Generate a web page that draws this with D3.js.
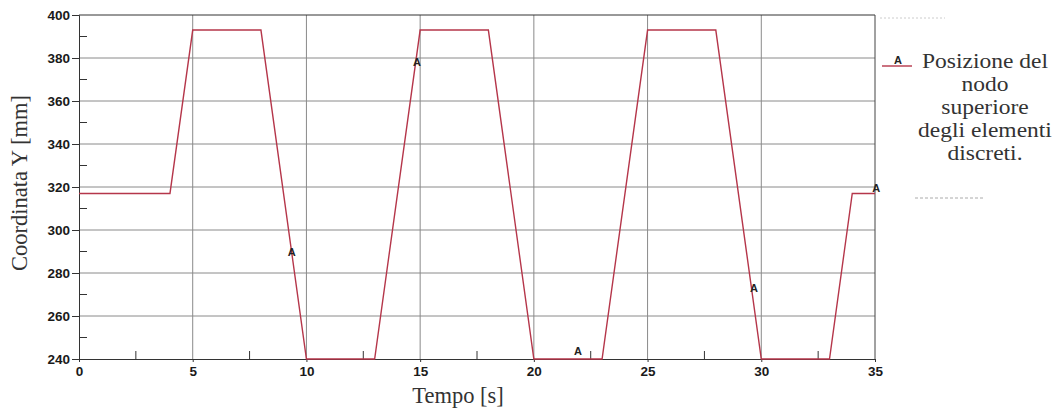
<!DOCTYPE html>
<html><head><meta charset="utf-8">
<script src="https://cdn.jsdelivr.net/npm/d3@7"></script>
<style>body{margin:0;background:#fff;}svg{display:block;}</style>
</head><body>
<svg id="c" width="1060" height="411"></svg>
<script>
// Data
const timeValues = [0, 4, 5, 8, 10, 13, 15, 18, 20, 23, 25, 28, 30, 33, 34, 35];
const yValues    = [317, 317, 393, 393, 240, 240, 393, 393, 240, 240, 393, 393, 240, 240, 317, 317];
const markerTime = [9.35, 14.86, 21.94, 29.68, 35.05];
const markerY    = [289.8, 378, 243.7, 273, 319.5];
const xTicks = [0, 5, 10, 15, 20, 25, 30, 35];
const xMinor = [2.5, 7.5, 12.5, 17.5, 22.5, 27.5, 32.5];
const yTicks = [240, 260, 280, 300, 320, 340, 360, 380, 400];
const yMinor = [250, 270, 290, 310, 330, 350, 370, 390];
const legendLines = ["Posizione del", "nodo", "superiore", "degli elementi", "discreti."];

const svg = d3.select("#c");
const L = 79, R = 875, T = 15, B = 359;
const x = d3.scaleLinear().domain([0, 35]).range([L, R]);
const y = d3.scaleLinear().domain([240, 400]).range([B, T]);
const lineColor = "#b5364a";
const sans = "Liberation Sans, Arial, sans-serif";
const serif = "Liberation Serif, Times New Roman, serif";

// grid
svg.append("g").selectAll("line").data(yTicks.filter(d => d > 240 && d < 400)).join("line")
  .attr("x1", L).attr("x2", R).attr("y1", d => y(d)).attr("y2", d => y(d))
  .attr("stroke", "#8a8a8a").attr("stroke-width", 1);
svg.append("g").selectAll("line").data(xTicks.filter(d => d > 0 && d < 35)).join("line")
  .attr("y1", T).attr("y2", B).attr("x1", d => x(d)).attr("x2", d => x(d))
  .attr("stroke", "#8a8a8a").attr("stroke-width", 1);

// frame
svg.append("line").attr("x1", L).attr("x2", R).attr("y1", T).attr("y2", T).attr("stroke", "#333");
svg.append("line").attr("x1", R).attr("x2", R).attr("y1", T).attr("y2", B).attr("stroke", "#444");

// left axis
const yAxis = d3.axisLeft(y).tickValues(yTicks).tickSize(7).tickPadding(2).tickFormat(d3.format("d"));
const gy = svg.append("g").attr("transform", `translate(${L},0)`).call(yAxis);
gy.select(".domain").attr("stroke", "#333");
gy.selectAll(".tick line").attr("stroke", "#333");
gy.selectAll("text").attr("font-family", sans).attr("font-weight", "bold")
  .attr("font-size", 13.5).attr("fill", "#1a1a1a");
svg.append("g").selectAll("line").data(yMinor).join("line")
  .attr("x1", L).attr("x2", L + 8).attr("y1", d => y(d)).attr("y2", d => y(d)).attr("stroke", "#333");

// bottom axis
const xAxis = d3.axisBottom(x).tickValues(xTicks).tickSize(3).tickPadding(4).tickFormat(d3.format("d"));
const gx = svg.append("g").attr("transform", `translate(0,${B})`).call(xAxis);
gx.select(".domain").attr("stroke", "#333");
gx.selectAll(".tick line").attr("stroke", "#333");
gx.selectAll("text").attr("font-family", sans).attr("font-weight", "bold")
  .attr("font-size", 13.5).attr("fill", "#1a1a1a");
svg.append("g").selectAll("line").data(xMinor).join("line")
  .attr("y1", B).attr("y2", B - 8).attr("x1", d => x(d)).attr("x2", d => x(d)).attr("stroke", "#333");

// curve
const pts = timeValues.map((t, i) => [t, yValues[i]]);
svg.append("path").datum(pts)
  .attr("d", d3.line().x(d => x(d[0])).y(d => y(d[1])))
  .attr("fill", "none").attr("stroke", lineColor).attr("stroke-width", 1.4);

// markers "A"
svg.append("g").selectAll("text").data(markerTime.map((t, i) => [t, markerY[i]])).join("text")
  .attr("x", d => x(d[0])).attr("y", d => y(d[1]) + 4)
  .attr("text-anchor", "middle").attr("font-family", sans)
  .attr("font-weight", "bold").attr("font-size", 11).attr("fill", "#222").text("A");

// axis titles
svg.append("text").attr("transform", "translate(27,183) rotate(-90)")
  .attr("text-anchor", "middle").attr("font-family", serif)
  .attr("font-size", 22.5).attr("fill", "#333").text("Coordinata Y [mm]");
svg.append("text").attr("x", 458).attr("y", 403)
  .attr("text-anchor", "middle").attr("font-family", serif)
  .attr("font-size", 22.5).attr("fill", "#333").text("Tempo [s]");

// legend
svg.append("line").attr("x1", 882).attr("x2", 912).attr("y1", 66).attr("y2", 66)
  .attr("stroke", lineColor).attr("stroke-width", 1.4);
svg.append("text").attr("x", 898).attr("y", 64).attr("text-anchor", "middle")
  .attr("font-family", sans).attr("font-weight", "bold")
  .attr("font-size", 11).attr("fill", "#222").text("A");
svg.append("g").attr("transform", "translate(985,0) scale(1.12,1)")
  .selectAll("text").data(legendLines).join("text")
  .attr("x", 0).attr("y", (d, i) => 68 + i * 23)
  .attr("text-anchor", "middle").attr("font-family", serif)
  .attr("font-size", 21).attr("fill", "#333").text(d => d);

// faint dotted artifacts
svg.append("line").attr("x1", 880).attr("x2", 945).attr("y1", 18).attr("y2", 18)
  .attr("stroke", "#ccc").attr("stroke-dasharray", "2,2");
svg.append("line").attr("x1", 915).attr("x2", 985).attr("y1", 198).attr("y2", 198)
  .attr("stroke", "#aaa").attr("stroke-dasharray", "3,2");
</script>
</body></html>
